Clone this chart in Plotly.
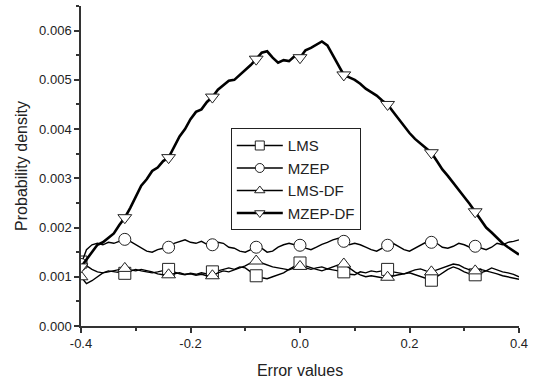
import plotly.graph_objects as go

x_vals = [round(-0.40 + 0.01 * i, 2) for i in range(81)]

lms = [0.00130, 0.00122, 0.00115, 0.00110, 0.00108, 0.00112, 0.00110, 0.00108, 0.00107, 0.00112,
       0.00115, 0.00112, 0.00110, 0.00108, 0.00110, 0.00113, 0.00115, 0.00110, 0.00106, 0.00104,
       0.00107, 0.00105, 0.00108, 0.00106, 0.00110, 0.00112, 0.00115, 0.00118, 0.00115, 0.00120,
       0.00118, 0.00110, 0.00102, 0.00098, 0.00096, 0.00100, 0.00104, 0.00108, 0.00115, 0.00122,
       0.00128, 0.00122, 0.00118, 0.00115, 0.00112, 0.00116, 0.00114, 0.00112, 0.00110, 0.00105,
       0.00104, 0.00110, 0.00108, 0.00112, 0.00110, 0.00112, 0.00115, 0.00110, 0.00108, 0.00106,
       0.00108, 0.00104, 0.00100, 0.00096, 0.00093, 0.00100, 0.00108, 0.00115, 0.00120, 0.00116,
       0.00110, 0.00106, 0.00104, 0.00108, 0.00112, 0.00118, 0.00114, 0.00110, 0.00108, 0.00105,
       0.00100]

mzep = [0.00125, 0.00155, 0.00165, 0.00168, 0.00165, 0.00170, 0.00168, 0.00172, 0.00176, 0.00172,
        0.00165, 0.00158, 0.00152, 0.00150, 0.00155, 0.00158, 0.00160, 0.00168, 0.00172, 0.00175,
        0.00170, 0.00168, 0.00172, 0.00166, 0.00165, 0.00170, 0.00168, 0.00160, 0.00158, 0.00152,
        0.00150, 0.00155, 0.00160, 0.00158, 0.00150, 0.00152, 0.00160, 0.00165, 0.00168, 0.00165,
        0.00164, 0.00158, 0.00155, 0.00160, 0.00166, 0.00170, 0.00175, 0.00178, 0.00172, 0.00165,
        0.00168, 0.00165, 0.00160, 0.00155, 0.00152, 0.00158, 0.00164, 0.00168, 0.00162, 0.00155,
        0.00152, 0.00158, 0.00165, 0.00170, 0.00170, 0.00168, 0.00160, 0.00158, 0.00162, 0.00168,
        0.00165, 0.00160, 0.00162, 0.00158, 0.00155, 0.00160, 0.00168, 0.00165, 0.00170, 0.00172,
        0.00175]

lms_df = [0.00100, 0.00086, 0.00092, 0.00100, 0.00108, 0.00110, 0.00112, 0.00115, 0.00117, 0.00114,
          0.00112, 0.00115, 0.00113, 0.00110, 0.00106, 0.00104, 0.00104, 0.00106, 0.00108, 0.00105,
          0.00106, 0.00103, 0.00105, 0.00102, 0.00102, 0.00108, 0.00112, 0.00110, 0.00114, 0.00118,
          0.00122, 0.00128, 0.00132, 0.00128, 0.00124, 0.00120, 0.00118, 0.00116, 0.00114, 0.00118,
          0.00121, 0.00118, 0.00115, 0.00118, 0.00120, 0.00116, 0.00120, 0.00124, 0.00126, 0.00118,
          0.00110, 0.00104, 0.00100, 0.00102, 0.00100, 0.00098, 0.00099, 0.00102, 0.00104, 0.00106,
          0.00110, 0.00114, 0.00116, 0.00112, 0.00110, 0.00114, 0.00118, 0.00122, 0.00126, 0.00124,
          0.00118, 0.00114, 0.00112, 0.00115, 0.00112, 0.00110, 0.00106, 0.00102, 0.00100, 0.00098,
          0.00095]

mzep_df = [0.00120, 0.00135, 0.00150, 0.00165, 0.00170, 0.00180, 0.00188, 0.00205, 0.00220, 0.00240,
           0.00262, 0.00285, 0.00298, 0.00315, 0.00322, 0.00335, 0.00342, 0.00365, 0.00385, 0.00400,
           0.00420, 0.00435, 0.00440, 0.00455, 0.00465, 0.00480, 0.00490, 0.00498, 0.00500, 0.00510,
           0.00518, 0.00530, 0.00542, 0.00555, 0.00558, 0.00545, 0.00535, 0.00540, 0.00538, 0.00548,
           0.00545, 0.00560, 0.00565, 0.00572, 0.00578, 0.00570, 0.00550, 0.00530, 0.00510, 0.00505,
           0.00500, 0.00492, 0.00482, 0.00475, 0.00468, 0.00458, 0.00450, 0.00435, 0.00420, 0.00405,
           0.00392, 0.00380, 0.00370, 0.00362, 0.00352, 0.00335, 0.00318, 0.00305, 0.00290, 0.00275,
           0.00262, 0.00248, 0.00232, 0.00215, 0.00200, 0.00190, 0.00178, 0.00168, 0.00160, 0.00152,
           0.00145]

marker_x = [-0.40, -0.32, -0.24, -0.16, -0.08, 0.00, 0.08, 0.16, 0.24, 0.32]

series_names = ["LMS", "MZEP", "LMS-DF", "MZEP-DF"]
series_values = [lms, mzep, lms_df, mzep_df]
series_symbols = ["square", "circle", "triangle-up", "triangle-down"]
series_widths = [1.4, 1.4, 1.4, 2.6]

x_tickvals = [-0.4, -0.2, 0.0, 0.2, 0.4]
x_ticktext = ["-0.4", "-0.2", "0.0", "0.2", "0.4"]
y_tickvals = [0.000, 0.001, 0.002, 0.003, 0.004, 0.005, 0.006]
y_ticktext = ["0.000", "0.001", "0.002", "0.003", "0.004", "0.005", "0.006"]

fig = go.Figure()
for name, vals, sym, w in zip(series_names, series_values, series_symbols, series_widths):
    fig.add_trace(go.Scatter(x=x_vals, y=vals, mode="lines", line=dict(color="black", width=w),
                             showlegend=False, hoverinfo="skip"))
    idx = [x_vals.index(round(m, 2)) for m in marker_x]
    fig.add_trace(go.Scatter(x=[x_vals[i] for i in idx], y=[vals[i] for i in idx], mode="markers",
                             marker=dict(symbol=sym, size=12, color="white",
                                         line=dict(color="#222", width=1)),
                             showlegend=False))
    fig.add_trace(go.Scatter(x=[None], y=[None], mode="lines+markers", name=name,
                             line=dict(color="black", width=w),
                             marker=dict(symbol=sym, size=9, color="white",
                                         line=dict(color="#222", width=1))))

font_family = "Liberation Sans, Arial, sans-serif"
fig.update_layout(
    width=534, height=383,
    margin=dict(l=81, r=14, t=6, b=55),
    paper_bgcolor="white", plot_bgcolor="white",
    font=dict(family=font_family, size=13, color="#222"),
    showlegend=True,
    legend=dict(x=0.342, y=0.618, xanchor="left", yanchor="top",
                bordercolor="#222", borderwidth=1, bgcolor="white", itemwidth=46,
                font=dict(size=15, color="#222"), tracegroupgap=0),
    xaxis=dict(range=[-0.4, 0.4], tickvals=x_tickvals, ticktext=x_ticktext,
               showline=True, linecolor="#333", linewidth=1.5, ticks="outside",
               ticklen=5, tickwidth=1.5, tickcolor="#333", showgrid=False, zeroline=False,
               minor=dict(tickvals=[-0.3, -0.1, 0.1, 0.3], ticks="outside", ticklen=3,
                          tickwidth=1.5, tickcolor="#333"),
               title=dict(text="Error values", font=dict(size=16), standoff=14)),
    yaxis=dict(range=[0, 0.0065], tickvals=y_tickvals, ticktext=y_ticktext,
               showline=True, linecolor="#333", linewidth=1.5, ticks="outside",
               ticklen=5, tickwidth=1.5, tickcolor="#333", showgrid=False, zeroline=False,
               minor=dict(tickvals=[0.0005, 0.0015, 0.0025, 0.0035, 0.0045, 0.0055, 0.0065],
                          ticks="outside", ticklen=3, tickwidth=1.5, tickcolor="#333"),
               title=dict(text="Probability density", font=dict(size=16), standoff=8)),
)

fig.write_html("out.html")
